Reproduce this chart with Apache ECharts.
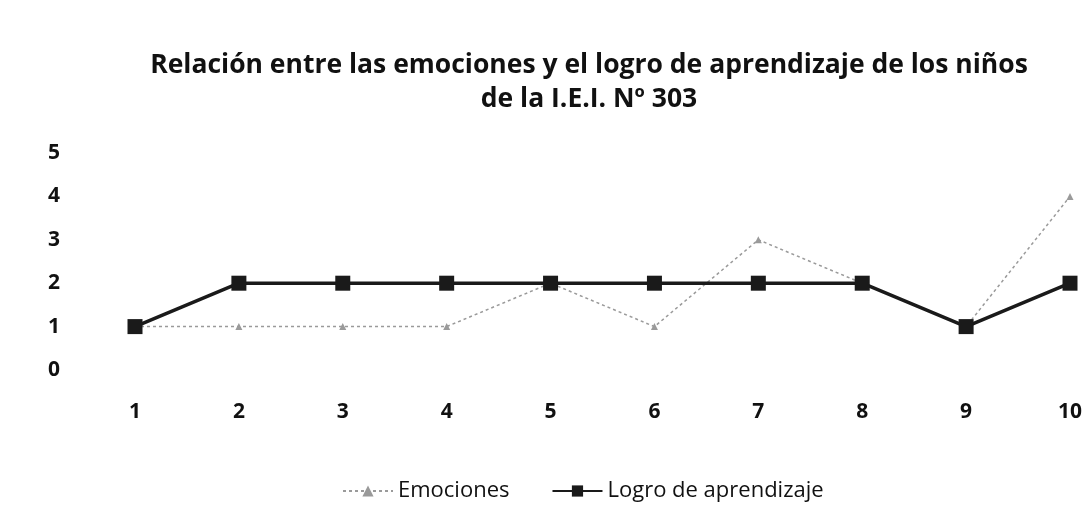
<!DOCTYPE html>
<html><head><meta charset="utf-8">
<script src="https://cdn.jsdelivr.net/npm/echarts@6/dist/echarts.min.js"></script>
<style>html,body{margin:0;padding:0;background:#fff}#c{width:1087px;height:518px}</style>
</head><body><div id="c"></div>
<script>
var categories = ['1','2','3','4','5','6','7','8','9','10'];
var emociones = [1,1,1,1,2,1,3,2,1,4];
var logro = [1,2,2,2,2,2,2,2,1,2];
var titleText = 'Relación entre las emociones y el logro de aprendizaje de los niños\nde la I.E.I. Nº 303';
var seriesNames = ['Emociones','Logro de aprendizaje'];

var chart = echarts.init(document.getElementById('c'));
chart.setOption({
  backgroundColor:'#fff',
  animation:false,
  title:{text:titleText,left:584,textAlign:'center',top:43,
    textStyle:{fontFamily:'Open Sans',fontWeight:'bold',fontSize:26.5,color:'#111',lineHeight:34}},
  legend:{top:475,left:337,itemGap:42,itemWidth:50,itemHeight:14,
    textStyle:{fontFamily:'Open Sans',fontSize:22,color:'#111'},
    data:seriesNames},
  grid:{left:135,right:17,top:153,bottom:148},
  xAxis:{type:'category',data:categories,boundaryGap:false,
    axisLine:{show:false},axisTick:{show:false},
    axisLabel:{margin:32,fontFamily:'Open Sans',fontWeight:'bold',fontSize:21,color:'#111'}},
  yAxis:{type:'value',min:0,max:5,interval:1,
    axisLine:{show:false},axisTick:{show:false},splitLine:{show:false},
    axisLabel:{margin:75,fontFamily:'Open Sans',fontWeight:'bold',fontSize:21,color:'#111'}},
  series:[
    {name:seriesNames[0],type:'line',data:emociones,
      lineStyle:{color:'#9a9a9a',width:1.5,type:[3,3]},
      itemStyle:{color:'#9a9a9a'},symbol:'triangle',symbolSize:7},
    {name:seriesNames[1],type:'line',data:logro,
      lineStyle:{color:'#1a1a1a',width:3.5},
      itemStyle:{color:'#1a1a1a'},symbol:'rect',symbolSize:15}
  ]
});
</script></body></html>
